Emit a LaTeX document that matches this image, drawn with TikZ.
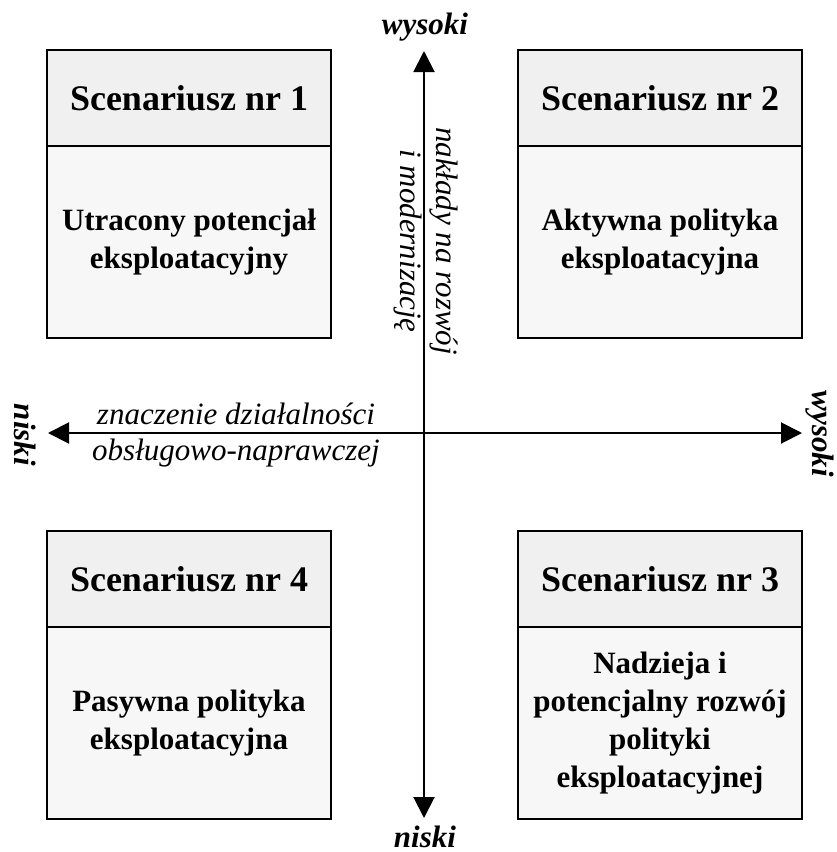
\documentclass[tikz,border=0pt]{standalone}
\usepackage{fontspec}
\setmainfont{Liberation Serif}
\usetikzlibrary{arrows.meta}
\definecolor{headgray}{RGB}{240,240,240}
\definecolor{bodygray}{RGB}{247,247,247}
\begin{document}
\begin{tikzpicture}[x=1pt,y=-1pt,
  headbox/.style={draw=black,line width=2pt,fill=headgray,minimum width=284pt,minimum height=96pt,inner sep=0pt,
    font=\fontsize{36}{43}\selectfont\bfseries,align=center},
  bodybox/.style={draw=black,line width=2pt,fill=bodygray,minimum width=284pt,minimum height=192pt,inner sep=0pt,
    font=\fontsize{31}{38}\selectfont\bfseries,align=center},
  axisline/.style={line width=2pt,{Triangle[length=21pt,width=21pt]}-{Triangle[length=21pt,width=21pt]}},
  endlabel/.style={font=\fontsize{31}{36}\selectfont\bfseries\itshape,inner sep=0pt},
  axislabel/.style={font=\fontsize{31}{36}\selectfont\itshape,align=center,inner sep=0pt}]
\useasboundingbox (0,0) rectangle (836,852);
% axes
\coordinate (ytop) at (424,51);
\coordinate (ybot) at (424,818);
\coordinate (xleft) at (48,433);
\coordinate (xright) at (802,433);
\draw[axisline] (ybot) -- (ytop);
\draw[axisline] (xleft) -- (xright);
% boxes
\node[headbox] (h1) at (189,98) {Scenariusz nr 1};
\node[bodybox] (b1) at (189,242) {Utracony potencjał\\eksploatacyjny};
\node[headbox] (h2) at (660,98) {Scenariusz nr 2};
\node[bodybox] (b2) at (660,242) {Aktywna polityka\\eksploatacyjna};
\node[headbox] (h4) at (189,579) {Scenariusz nr 4};
\node[bodybox] (b4) at (189,723) {Pasywna polityka\\eksploatacyjna};
\node[headbox] (h3) at (660,579) {Scenariusz nr 3};
\node[bodybox] (b3) at (660,723) {Nadzieja i\\potencjalny rozwój\\polityki\\eksploatacyjnej};
% end labels
\node[endlabel,anchor=base] (ltop) at (425,34) {wysoki};
\node[endlabel,anchor=base] (lbot) at (425,847) {niski};
\node[endlabel,rotate=-90] (lleft) at (25,435) {niski};
\node[endlabel,rotate=-90] (lright) at (820,434) {wysoki};
% axis labels
\node[axislabel] (xlab) at (236,435) {znaczenie działalności\\obsługowo-naprawczej};
\node[axislabel,rotate=-90] (ylab) at (426,241) {nakłady na rozwój\\i modernizację};
\end{tikzpicture}
\end{document}
